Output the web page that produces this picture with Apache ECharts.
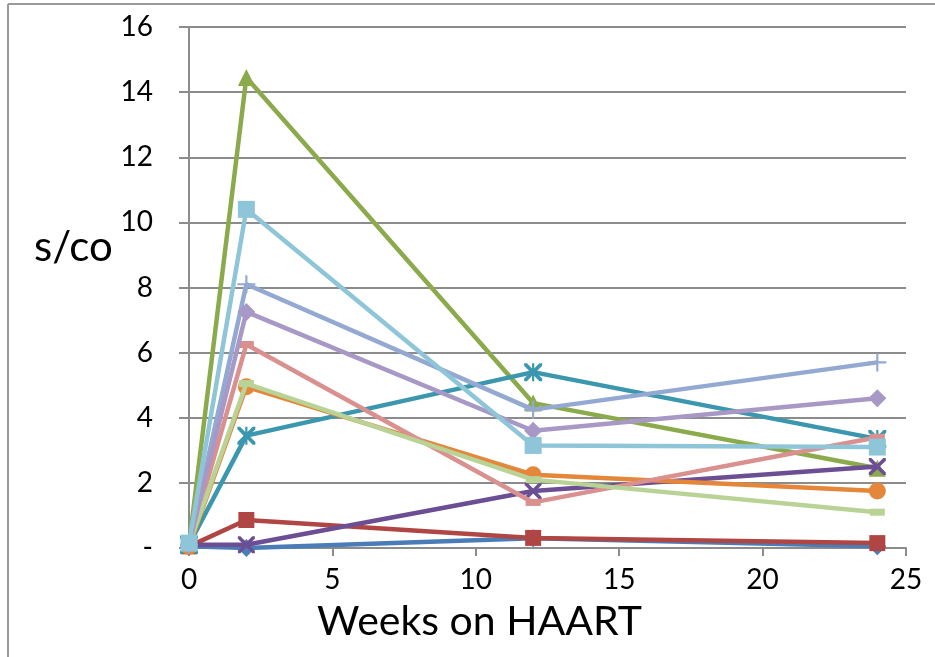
<!DOCTYPE html>
<html>
<head>
<meta charset="utf-8">
<script src="https://cdn.jsdelivr.net/npm/echarts@6/dist/echarts.min.js"></script>
<style>
html,body{margin:0;padding:0;background:#fff;}
#c{width:935px;height:657px;}
</style>
</head>
<body>
<div id="c"></div>
<script>
// ---- data ----
const weeks = [0, 2, 12, 24];
const seriesNames = ['P1','P2','P3','P4','P5','P6','P7','P8','P9','P10','P11'];
const darkBlue   = [0.05, 0.0, 0.3, 0.05];
const darkRed    = [0.05, 0.86, 0.31, 0.15];
const green      = [0.1, 14.45, 4.45, 2.45];
const purple     = [0.1, 0.1, 1.75, 2.5];
const teal       = [0.1, 3.45, 5.4, 3.35];
const orange     = [0.05, 4.95, 2.25, 1.75];
const blueLav    = [0.1, 8.1, 4.25, 5.7];
const pink       = [0.1, 6.25, 1.4, 3.4];
const lightGreen = [0.1, 5.05, 2.1, 1.1];
const lavender   = [0.1, 7.25, 3.6, 4.6];
const lightAqua  = [0.15, 10.4, 3.15, 3.1];
const xTicks = [0, 5, 10, 15, 20, 25];
const yTicks = [0, 2, 4, 6, 8, 10, 12, 14, 16];

// ---- symbols ----
const X_PATH = 'path://M0,0 L3,0 L10,7 L17,0 L20,0 L20,3 L13,10 L20,17 L20,20 L17,20 L10,13 L3,20 L0,20 L0,17 L7,10 L0,3 Z';
const STAR_PATH = 'path://M0,0 L3,0 L10,7 L17,0 L20,0 L20,3 L13,10 L20,17 L20,20 L17,20 L10,13 L3,20 L0,20 L0,17 L7,10 L0,3 Z M8.8,0 L11.2,0 L11.2,20 L8.8,20 Z';
const PLUS_PATH = 'path://M8.8,0 L11.2,0 L11.2,8.8 L20,8.8 L20,11.2 L11.2,11.2 L11.2,20 L8.8,20 L8.8,11.2 L0,11.2 L0,8.8 L8.8,8.8 Z';

const defs = [
  {data: darkBlue,   color: '#4A7CB7', symbol: 'diamond',  size: 18},
  {data: darkRed,    color: '#B04643', symbol: 'rect',     size: 16},
  {data: green,      color: '#8AAA4C', symbol: 'triangle', size: 17},
  {data: purple,     color: '#6C4E94', symbol: X_PATH,     size: 17},
  {data: teal,       color: '#3A97AE', symbol: STAR_PATH,  size: 18},
  {data: orange,     color: '#E4873A', symbol: 'circle',   size: 17},
  {data: blueLav,    color: '#93A9D2', symbol: PLUS_PATH,  size: 18},
  {data: pink,       color: '#D9908E', symbol: 'rect',     size: [15, 7]},
  {data: lightGreen, color: '#B8D395', symbol: 'rect',     size: [15, 7]},
  {data: lavender,   color: '#A898C6', symbol: 'diamond',  size: 18},
  {data: lightAqua,  color: '#8FC5D8', symbol: 'rect',     size: 17}
];

const FONT = 'Lato';
const chart = echarts.init(document.getElementById('c'), null, {renderer: 'canvas'});
chart.setOption({
  animation: false,
  backgroundColor: '#ffffff',
  grid: {left: 189, right: 29, top: 27, bottom: 109, containLabel: false},
  xAxis: {
    type: 'value', min: xTicks[0], max: xTicks[xTicks.length - 1], interval: 5,
    axisLine: {show: true, onZero: false, lineStyle: {color: '#8C8C8C', width: 2}},
    axisTick: {show: true, inside: false, length: 8, lineStyle: {color: '#8C8C8C', width: 2}},
    axisLabel: {fontFamily: FONT, fontSize: 28, color: '#000', margin: 18},
    splitLine: {show: false}
  },
  yAxis: {
    type: 'value', min: yTicks[0], max: yTicks[yTicks.length - 1], interval: 2,
    axisLine: {show: true, lineStyle: {color: '#8C8C8C', width: 2}},
    axisTick: {show: true, inside: false, length: 10, lineStyle: {color: '#8C8C8C', width: 2}},
    axisLabel: {fontFamily: FONT, fontSize: 28, color: '#000', margin: 36,
      formatter: v => v === 0 ? '-' : String(v)},
    splitLine: {show: true, lineStyle: {color: '#8C8C8C', width: 2}}
  },
  graphic: [
    {type: 'line', shape: {x1: 8, y1: 4, x2: 935, y2: 4}, style: {stroke: '#9A9A9A', lineWidth: 2}},
    {type: 'line', shape: {x1: 8, y1: 4, x2: 8, y2: 657}, style: {stroke: '#9A9A9A', lineWidth: 2}},
    {type: 'text', left: 34, top: 226, style: {text: 's/co', font: '42px Lato', fill: '#000'}},
    {type: 'text', left: 317, top: 601, style: {text: 'Weeks on HAART', font: '41px Lato', fill: '#000'}}
  ],
  series: defs.map((d, i) => ({
    name: seriesNames[i],
    type: 'line',
    data: weeks.map((w, j) => [w, d.data[j]]),
    symbol: d.symbol,
    symbolSize: d.size,
    showAllSymbol: true,
    lineStyle: {color: d.color, width: 4.5},
    itemStyle: {color: d.color},
    z: 2 + i
  }))
});
</script>
</body>
</html>
